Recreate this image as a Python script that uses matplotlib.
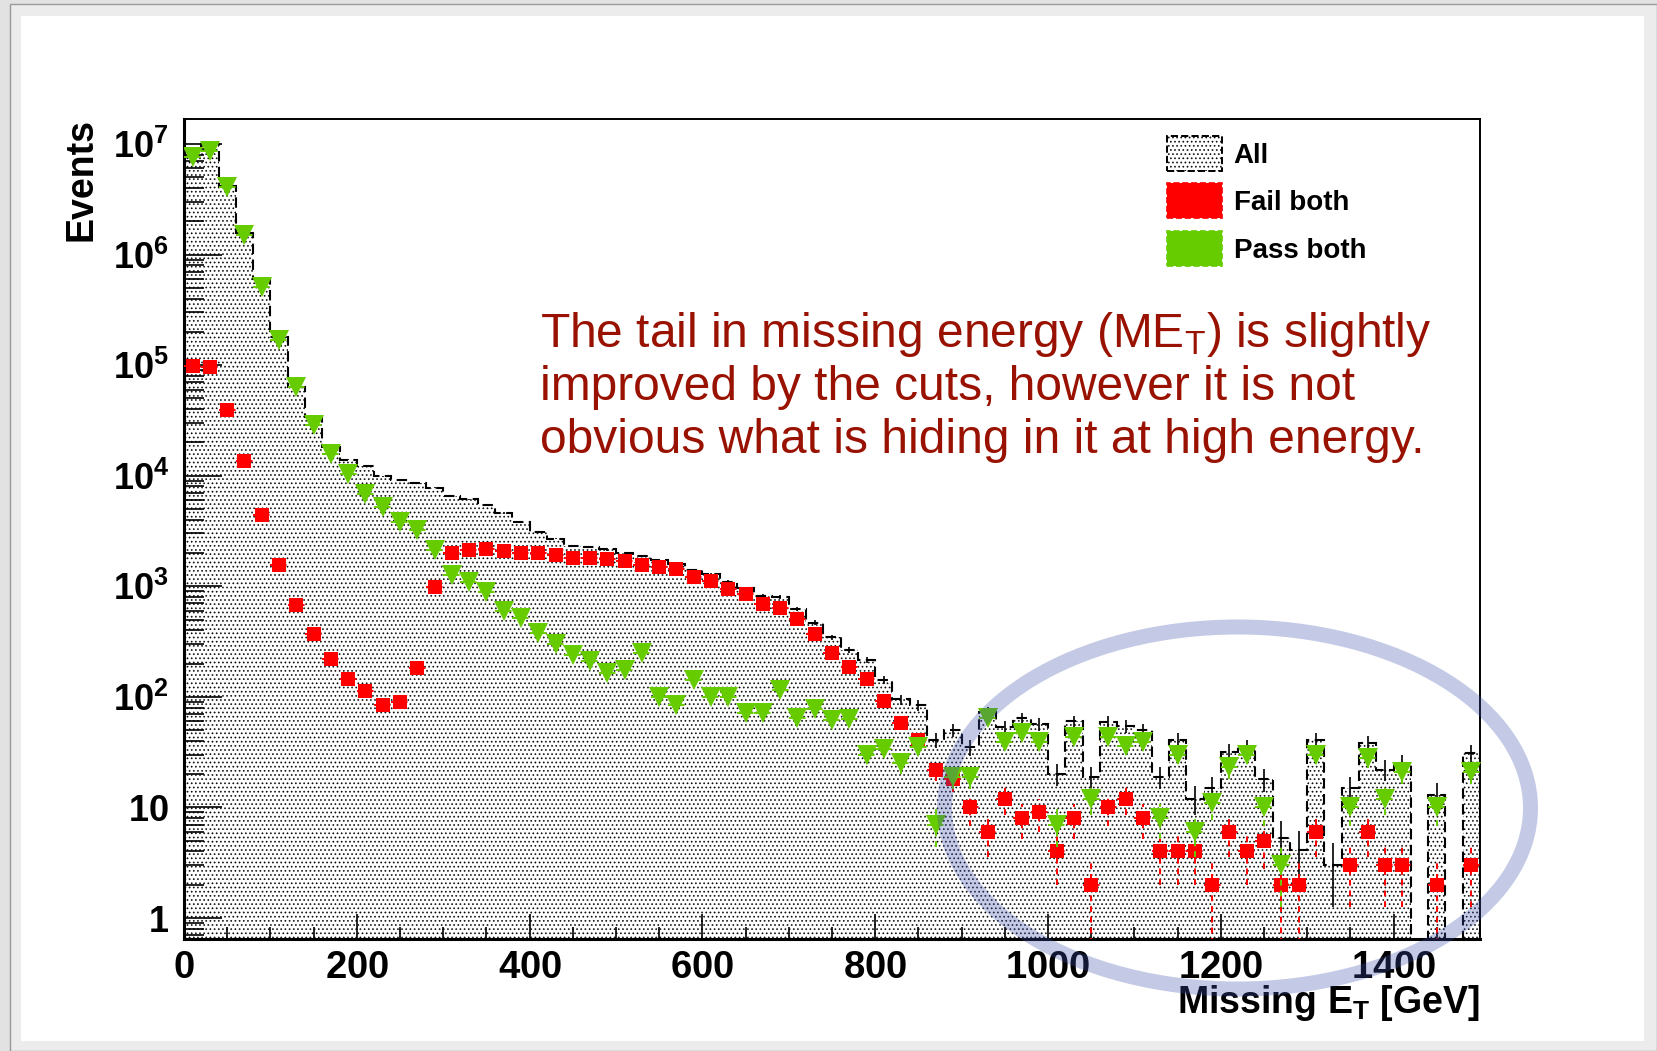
import numpy as np
import matplotlib
matplotlib.use("Agg")
import matplotlib.pyplot as plt
import matplotlib.hatch as mhatch
from matplotlib.patches import Patch, Ellipse, Rectangle
from matplotlib.ticker import (MultipleLocator, LogLocator, FixedLocator,
                               FuncFormatter, NullFormatter)

plt.rcParams["font.family"] = ["Liberation Sans", "DejaVu Sans"]
plt.rcParams["mathtext.fontset"] = "custom"
plt.rcParams["mathtext.rm"] = "Liberation Sans"
plt.rcParams["mathtext.bf"] = "Liberation Sans:bold"
plt.rcParams["mathtext.it"] = "Liberation Sans:italic"
plt.rcParams["hatch.linewidth"] = 0.3

# small crisp dots for the dotted fill pattern
mhatch.SmallFilledCircles.size = 0.16

# ---------------- data ----------------
bin_edges = np.arange(0, 1501, 20)
series_names = ["All", "Fail both", "Pass both"]

all_events = np.array([
    8.3e6, 9.9e6, 4.15e6, 1.55e6, 6.0e5, 1.78e5, 6.4e4, 3.4e4, 1.83e4, 1.39e4,
    1.22e4, 9.9e3, 9.1e3, 8.6e3, 7.8e3, 6.6e3, 6.1e3, 5.4e3, 4.6e3, 3.8e3,
    3.1e3, 2.7e3, 2.3e3, 2.25e3, 2.15e3, 2.0e3, 1.88e3, 1.74e3, 1.58e3, 1.40e3,
    1.28e3, 1.10e3, 955, 820, 800, 620, 470, 345, 265, 215,
    142, 95, 84, 41, 50, 35, 73, 53, 64, 57,
    20, 60, 19, 59, 54, 50, 19, 41, 12, 15,
    32, 35, 18, 5.3, 4.1, 41, 3, 15, 38, 22,
    25, 0, 13, 0, 31])

fail_both = np.array([
    9.8e4, 9.7e4, 3.9e4, 1.36e4, 4.4e3, 1.56e3, 672, 367, 218, 144,
    112, 85, 89, 181, 990, 1.98e3, 2.11e3, 2.16e3, 2.07e3, 2.01e3,
    2.0e3, 1.93e3, 1.79e3, 1.79e3, 1.78e3, 1.68e3, 1.56e3, 1.48e3, 1.42e3, 1.21e3,
    1.11e3, 944, 844, 690, 631, 505, 370, 247, 186, 145,
    91, 57.5, 41, 22, 18, 10, 6, 12, 8, 9,
    4, 8, 2, 10, 12, 8, 4, 4, 4, 2,
    6, 4, 5, 2, 2, 6, 0, 3, 6, 3,
    3, 0, 2, 0, 3])

pass_both = np.array([
    7.6e6, 8.6e6, 4.05e6, 1.51e6, 5.1e5, 1.68e5, 6.3e4, 2.87e4, 1.57e4, 1.04e4,
    6.85e3, 5.2e3, 3.83e3, 3.2e3, 2.11e3, 1.27e3, 1.09e3, 887, 593, 516,
    377, 302, 240, 211, 164, 174, 249, 99.5, 84, 143,
    99.5, 99.5, 71, 71, 116, 65, 78, 62, 63, 30,
    34, 25, 35, 7, 19, 19, 64, 39, 47, 39,
    7, 43, 12, 43, 36, 39, 8, 30, 6, 11,
    23, 30, 10, 3, 0, 30, 0, 10, 28, 12,
    21, 0, 10, 0, 21])

x_ticks_major = 200
x_ticks_minor = 50
y_decades = np.arange(0, 8)

annotation_lines = [
    r"The tail in missing energy (ME$_{\mathrm{T}}$) is slightly",
    "improved by the cuts, however it is not",
    "obvious what is hiding in it at high energy.",
]

# ---------------- figure ----------------
W, H, DPI = 1657, 1051, 100
fig = plt.figure(figsize=(W / DPI, H / DPI), dpi=DPI)
fig.patch.set_facecolor("#e2e2e2")


def fig_rect(x0, y0, x1, y1):
    """Rectangle given in pixels from the top-left corner -> figure fraction."""
    return [x0 / W, 1 - y1 / H, (x1 - x0) / W, (y1 - y0) / H]


# slide page
fig.add_artist(Rectangle((9.5 / W, 0), 1 - 9.5 / W, 1 - 3.5 / H, transform=fig.transFigure,
                         facecolor="#ececec", edgecolor="#9a9a9a", linewidth=1.0, zorder=-3))
fig.add_artist(Rectangle((21 / W, 1 - 1041 / H), (1644 - 21) / W, (1041 - 16) / H,
                         transform=fig.transFigure, facecolor="white", edgecolor="none", zorder=-2))

ax = fig.add_axes(fig_rect(184, 119, 1480, 939))
ax.set_facecolor("white")

GREEN = "#66cc00"
RED = "#ff0000"

centers = 0.5 * (bin_edges[:-1] + bin_edges[1:])
half_w = 0.5 * np.diff(bin_edges)
floor = 1e-3
all_plot = np.where(all_events > 0, all_events, floor)

# "All": dotted fill + dashed outline + stat errors
ax.stairs(all_plot, bin_edges, baseline=floor, fill=True, facecolor="white",
          edgecolor="black", hatch="....", linewidth=0, zorder=1)
ax.stairs(all_plot, bin_edges, baseline=floor, color="black", linewidth=1.5,
          linestyle=(0, (5, 2.6)), zorder=2)
m = all_events > 0
ax.errorbar(centers[m], all_events[m], yerr=np.sqrt(all_events[m]), fmt="none",
            ecolor="black", elinewidth=1.2, zorder=2)

# "Fail both"
m = fail_both > 0
eb = ax.errorbar(centers[m], fail_both[m], yerr=np.sqrt(fail_both[m]), xerr=half_w[m],
                 fmt="s", ms=10.4, mfc=RED, mec=RED, mew=0, ecolor=RED,
                 elinewidth=1.4, zorder=3)
for c in eb[2]:
    c.set_linestyle((0, (3, 2.5)))

# "Pass both"
m = pass_both > 0
eb = ax.errorbar(centers[m], pass_both[m], yerr=np.sqrt(pass_both[m]), xerr=half_w[m],
                 fmt="v", ms=13.7, mfc=GREEN, mec=GREEN, mew=0, ecolor=GREEN,
                 elinewidth=1.4, zorder=4)
for c in eb[2]:
    c.set_linestyle((0, (3, 2.5)))

ax.set_yscale("log")
ax.set_xlim(bin_edges[0], bin_edges[-1])
ax.set_ylim(0.646, 1.68e7)

ax.xaxis.set_major_locator(MultipleLocator(x_ticks_major))
ax.xaxis.set_minor_locator(MultipleLocator(x_ticks_minor))
ax.yaxis.set_major_locator(FixedLocator(10.0 ** y_decades))
ax.yaxis.set_minor_locator(LogLocator(base=10, subs=np.arange(2, 10), numticks=20))
ax.yaxis.set_minor_formatter(NullFormatter())


def ylabel_fmt(v, pos):
    e = int(round(np.log10(v)))
    if e == 0:
        return r"$\mathbf{1}$"
    if e == 1:
        return r"$\mathbf{10}$"
    return r"$\mathbf{10^{%d}}$" % e


ax.yaxis.set_major_formatter(FuncFormatter(ylabel_fmt))
ax.xaxis.set_major_formatter(FuncFormatter(lambda v, p: r"$\mathbf{%d}$" % v))

px = 72 / DPI
ax.tick_params(axis="both", which="both", direction="in", top=False, right=False,
               width=1.2, color="black")
ax.tick_params(axis="x", which="major", length=25 * px, pad=11 * px, labelsize=27.5)
ax.tick_params(axis="x", which="minor", length=12 * px)
ax.tick_params(axis="y", which="major", length=38 * px, pad=15 * px, labelsize=26)
ax.tick_params(axis="y", which="minor", length=20 * px)

for s in ["left", "bottom"]:
    ax.spines[s].set_linewidth(2.2)
for s in ["top", "right"]:
    ax.spines[s].set_linewidth(1.4)

# axis titles
fig.text(81 / W, 1 - 118 / H, "Events", rotation=90, ha="center", va="top",
         fontsize=27, weight="bold")
fig.text(1480 / W, 1 - 1013 / H, r"Missing E$_{\mathbf{T}}$ [GeV]", ha="right",
         va="baseline", fontsize=27, weight="bold")

# legend
handles = [
    Patch(facecolor="white", edgecolor="black", hatch="....", linestyle="--", linewidth=1.4),
    Patch(facecolor=RED, edgecolor=RED, linestyle="--", linewidth=1.2),
    Patch(facecolor=GREEN, edgecolor=GREEN, linestyle="--", linewidth=1.2),
]
fs = 20
fpx = fs / px
fig.legend(handles, series_names, loc="upper left",
           bbox_to_anchor=(1167 / W, 1 - 136 / H), bbox_transform=fig.transFigure,
           frameon=False, borderpad=0, borderaxespad=0,
           handlelength=55 / fpx, handleheight=1.56,
           handletextpad=11.6 / fpx, labelspacing=12.5 / fpx,
           prop={"size": fs, "weight": "bold"})

# comment text on the slide
for t, yb in zip(annotation_lines, [347, 400, 453]):
    fig.text(540 / W, 1 - yb / H, t, fontsize=34.5, color="#991100", weight="normal",
             ha="left", va="baseline")

# highlight ring around the high-energy tail
fig.add_artist(Ellipse((1237.5 / W, 1 - 808 / H), 2 * 293 / W, 2 * 181 / H,
                       transform=fig.transFigure, fill=False,
                       edgecolor=(60 / 255, 80 / 255, 170 / 255, 0.3),
                       linewidth=15 * px, zorder=10))

fig.savefig("out.png", dpi=DPI)
